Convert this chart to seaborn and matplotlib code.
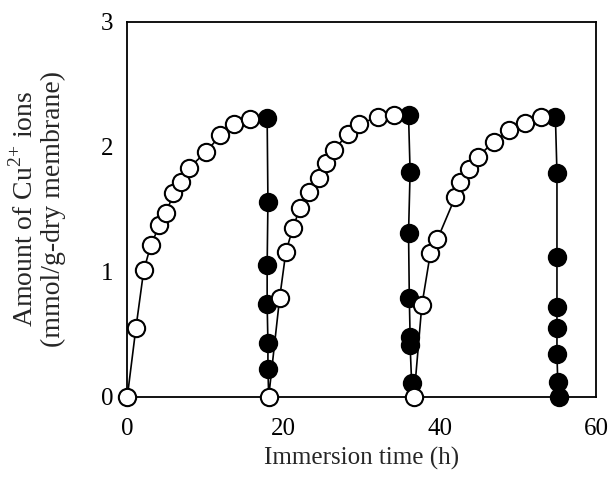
import numpy as np
import pandas as pd
import matplotlib
matplotlib.use('Agg')
import matplotlib.pyplot as plt
import seaborn as sns
from matplotlib.ticker import MultipleLocator

# adsorption (open) and desorption (filled) cycles
ads1_t = [0, 1.1, 2.1, 3.0, 4.1, 5.0, 5.9, 6.9, 7.9, 10.1, 11.9, 13.6, 15.7]
ads1_y = [0, 0.55, 1.01, 1.21, 1.37, 1.47, 1.63, 1.72, 1.83, 1.96, 2.09, 2.18, 2.22]
des1_t = [17.9, 18.0, 17.9, 17.9, 18.0, 18.0]
des1_y = [2.23, 1.56, 1.05, 0.74, 0.43, 0.22]

ads2_t = [18.1, 19.5, 20.3, 21.2, 22.1, 23.2, 24.5, 25.4, 26.4, 28.2, 29.7, 32.1, 34.1]
ads2_y = [0, 0.79, 1.16, 1.35, 1.51, 1.64, 1.75, 1.87, 1.97, 2.10, 2.18, 2.24, 2.25]
des2_t = [36.0, 36.2, 36.0, 36.1, 36.2, 36.2, 36.4]
des2_y = [2.25, 1.80, 1.31, 0.79, 0.48, 0.41, 0.11]

ads3_t = [36.7, 37.7, 38.8, 39.7, 42.0, 42.6, 43.8, 44.9, 46.9, 48.9, 50.9, 53.0]
ads3_y = [0, 0.73, 1.15, 1.26, 1.60, 1.72, 1.82, 1.92, 2.04, 2.13, 2.19, 2.24]
des3_t = [54.8, 55.0, 55.0, 55.0, 55.0, 55.0, 55.1, 55.2]
des3_y = [2.24, 1.79, 1.12, 0.72, 0.55, 0.34, 0.12, 0.0]

parts = [(ads1_t, ads1_y, 'ads'), (des1_t, des1_y, 'des'),
         (ads2_t, ads2_y, 'ads'), (des2_t, des2_y, 'des'),
         (ads3_t, ads3_y, 'ads'), (des3_t, des3_y, 'des')]
df = pd.concat([pd.DataFrame({'t': t, 'y': y, 'kind': k}) for t, y, k in parts],
               ignore_index=True)

sns.set_style('white')
plt.rcParams['font.family'] = ['Liberation Serif', 'DejaVu Serif']
plt.rcParams['mathtext.fontset'] = 'custom'
plt.rcParams['mathtext.rm'] = 'Liberation Serif'

fig = plt.figure(figsize=(6.13, 4.88), dpi=100)
ax = fig.add_axes([0.2077, 0.1871, 0.7646, 0.7684])

sns.lineplot(data=df, x='t', y='y', sort=False, estimator=None, color='black',
             linewidth=1.2, ax=ax, zorder=1)
ads = df[df['kind'] == 'ads']
des = df[df['kind'] == 'des']
sns.scatterplot(data=ads, x='t', y='y', marker='o', s=155, facecolor='white',
                edgecolor='black', linewidth=1.5, ax=ax, zorder=3, clip_on=False)
sns.scatterplot(data=des, x='t', y='y', marker='o', s=155, color='black',
                edgecolor='black', linewidth=1.5, ax=ax, zorder=2, clip_on=False)

ax.set_xlim(0, 60)
ax.set_ylim(0, 3)
ax.xaxis.set_major_locator(MultipleLocator(20))
ax.xaxis.set_minor_locator(MultipleLocator(10))
ax.yaxis.set_major_locator(MultipleLocator(1))
ax.yaxis.set_minor_locator(MultipleLocator(0.5))
ax.tick_params(which='major', direction='in', length=9, width=1.2,
               labelsize=18, pad=10, color='black')
ax.tick_params(axis='x', which='major', pad=15)
ax.tick_params(which='minor', direction='in', length=5, width=1.2, color='black')
for s in ax.spines.values():
    s.set_color('black')
    s.set_linewidth(1.3)

ax.set_xlabel('Immersion time (h)', fontsize=18, labelpad=5)
ax.set_ylabel('Amount of Cu$^{2\\text{+}}$ ions\n(mmol/g-dry membrane)', fontsize=20,
              linespacing=1.1)
ax.yaxis.set_label_coords(-0.131, 0.5)
for t in ax.get_xticklabels() + ax.get_yticklabels():
    t.set_color('black')

fig.savefig('out.png', dpi=100)
